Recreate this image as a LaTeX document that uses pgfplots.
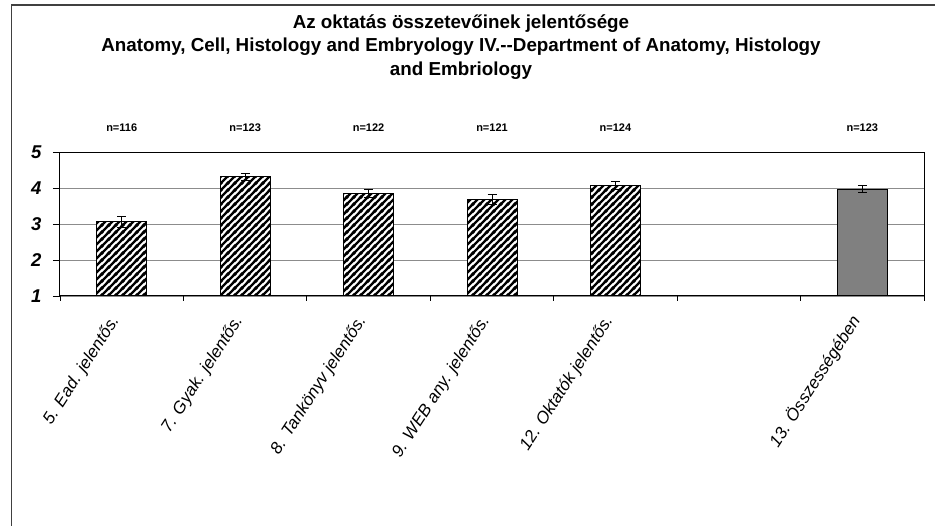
\documentclass[border=0pt]{standalone}
\usepackage{pgfplots}
\pgfplotsset{compat=1.18}
\usepackage{fontspec}
\setmainfont{Liberation Sans}
\usetikzlibrary{patterns}
\definecolor{barGray}{HTML}{808080}
\definecolor{gridGray}{HTML}{8C8C8C}

% thick diagonal stripes like the Excel hatch
\pgfdeclarepatternformonly{thickstripes}{\pgfqpoint{0pt}{0pt}}{\pgfqpoint{6.8pt}{6.8pt}}{\pgfqpoint{6.8pt}{6.8pt}}{
  \pgfsetlinewidth{2.5pt}
  \pgfpathmoveto{\pgfqpoint{-1pt}{-1pt}}\pgfpathlineto{\pgfqpoint{7.8pt}{7.8pt}}
  \pgfpathmoveto{\pgfqpoint{-1pt}{5.8pt}}\pgfpathlineto{\pgfqpoint{1pt}{7.8pt}}
  \pgfpathmoveto{\pgfqpoint{5.8pt}{-1pt}}\pgfpathlineto{\pgfqpoint{7.8pt}{1pt}}
  \pgfusepath{stroke}
}

\pgfplotstableread{
x   y     err
0   3.06  0.15
1   4.31  0.10
2   3.85  0.12
3   3.69  0.14
4   4.06  0.11
}\parts
\pgfplotstableread{
x   y     err
6   3.97  0.10
}\overall

\tikzset{nlab/.style={font=\fontsize{11}{11}\selectfont\bfseries, yshift=24pt}}

\begin{document}
\begin{tikzpicture}[x=1pt,y=1pt]
\useasboundingbox (-60,-230) rectangle (875,296);
% outer chart frame
\draw[line width=1.2pt, black!75] (-48.5,-240) -- (-48.5,291) -- (885,291);

\begin{axis}[
    at={(0,0)}, anchor=south west,
    scale only axis,
    width=864pt, height=144pt,
    xmin=-0.5, xmax=6.5,
    ymin=1, ymax=5,
    ytick={1,2,3,4,5},
    yticklabels={1,2,3,4,5},
    xtick={0,1,2,3,4,6},
    xticklabels={5. Ead. jelentős., 7. Gyak. jelentős., 8. Tankönyv jelentős., 9. WEB any. jelentős., 12. Oktatók jelentős., 13. Összességében},
    minor xtick={-0.5,0.5,1.5,2.5,3.5,4.5,5.5,6.5},
    major x tick style={draw=none},
    minor tick length=5pt,
    major tick length=7pt,
    tick align=outside,
    xtick pos=bottom, ytick pos=left,
    ymajorgrids,
    major grid style={gridGray, line width=0.8pt},
    axis line style={black, line width=1pt},
    tick style={black, line width=0.8pt},
    yticklabel style={font=\fontsize{18.5}{19}\selectfont\bfseries\itshape, xshift=-8pt},
    xticklabel style={font=\fontsize{17}{17}\selectfont\itshape, xshift=-4pt, yshift=-12pt, rotate=57, anchor=east},
    ybar, bar width=50pt, bar shift=0pt,
    clip=false,
]
\addplot[fill=white, postaction={pattern=thickstripes}, draw=black, line width=1pt,
         error bars/.cd, y dir=both, y explicit,
         error bar style={black, line width=1pt},
         error mark options={rotate=90, mark size=4.5pt, line width=1pt}]
    table[x=x, y=y, y error=err] {\parts};
\addplot[fill=barGray, draw=black, line width=1pt,
         error bars/.cd, y dir=both, y explicit,
         error bar style={black, line width=1pt},
         error mark options={rotate=90, mark size=4.5pt, line width=1pt}]
    table[x=x, y=y, y error=err] {\overall};

% sample sizes above each bar
\node[nlab] at (axis cs:0,5) {n=116};
\node[nlab] at (axis cs:1,5) {n=123};
\node[nlab] at (axis cs:2,5) {n=122};
\node[nlab] at (axis cs:3,5) {n=121};
\node[nlab] at (axis cs:4,5) {n=124};
\node[nlab] at (axis cs:6,5) {n=123};
\end{axis}

\node[align=center, font=\fontsize{18.8}{23.5}\selectfont\bfseries] at (401,249)
  {Az oktatás összetevőinek jelentősége\\
   Anatomy, Cell, Histology and Embryology IV.{-}{-}Department of Anatomy, Histology\\
   and Embriology};
\end{tikzpicture}
\end{document}
